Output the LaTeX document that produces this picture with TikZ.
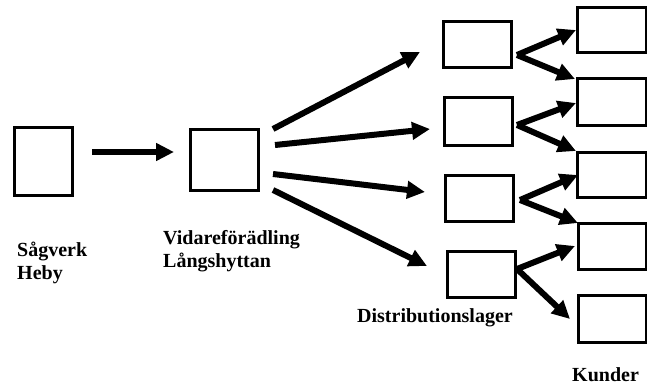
\documentclass[tikz,border=0pt]{standalone}
\usepackage{fontspec}
\setmainfont{Liberation Serif}
\usetikzlibrary{arrows.meta}
\begin{document}
\begin{tikzpicture}[x=1pt,y=-1pt,
  box/.style={draw,line width=3pt,inner sep=0pt},
  flow/.style={line width=6pt,-{Triangle[length=18pt,width=17pt]}},
  lbl/.style={font=\fontsize{20}{23}\selectfont\bfseries,anchor=west,inner sep=0pt,align=left}]
\useasboundingbox (0,0) rectangle (647,385);
% boxes
\node[box,minimum width=58pt,minimum height=68pt] (saw) at (43,161) {};
\node[box,minimum width=68pt,minimum height=61pt] (vid) at (224,159.5) {};
\node[box,minimum width=68pt,minimum height=46pt] (d1) at (477,45) {};
\node[box,minimum width=68pt,minimum height=47pt] (d2) at (478,121.5) {};
\node[box,minimum width=68pt,minimum height=46pt] (d3) at (479,198) {};
\node[box,minimum width=68pt,minimum height=46pt] (d4) at (481,274) {};
\node[box,minimum width=69pt,minimum height=45pt] (k1) at (611.5,30.5) {};
\node[box,minimum width=69pt,minimum height=46pt] (k2) at (611.5,102) {};
\node[box,minimum width=69pt,minimum height=45pt] (k3) at (611.5,174.5) {};
\node[box,minimum width=68pt,minimum height=46pt] (k4) at (612,246) {};
\node[box,minimum width=68pt,minimum height=47pt] (k5) at (612,318.5) {};
% labels
\node[lbl] (t1) at (17,262.5) {Sågverk\\Heby};
\node[lbl] (t2) at (163,251.5) {Vidareförädling\\Långshyttan};
\node[lbl] (t3) at (357,318) {Distributionslager};
\node[lbl] (t4) at (572,375) {Kunder};
% coordinates for arrow ends
\coordinate (a0s) at (92,152);  \coordinate (a0e) at (174,152);
\coordinate (v1) at (273,129);  \coordinate (e1) at (420,52);
\coordinate (v2) at (275,145);  \coordinate (e2) at (430,129);
\coordinate (v3) at (273,174);  \coordinate (e3) at (425,192);
\coordinate (v4) at (273,190);  \coordinate (e4) at (427,266);
\coordinate (s1) at (517,55);   \coordinate (s2) at (517,125);
\coordinate (s3) at (520,200);  \coordinate (s4) at (517,269);
\coordinate (u1) at (576,30);   \coordinate (w1) at (575,79);
\coordinate (u2) at (576,103);  \coordinate (w2) at (576,151);
\coordinate (u3) at (578,175);  \coordinate (w3) at (578,223);
\coordinate (u4) at (575,246);  \coordinate (w4) at (570,319);
% arrows
\draw[flow] (a0s) -- (a0e);
\draw[flow] (v1) -- (e1);
\draw[flow] (v2) -- (e2);
\draw[flow] (v3) -- (e3);
\draw[flow] (v4) -- (e4);
\draw[flow] (s1) -- (u1);
\draw[flow] (s1) -- (w1);
\draw[flow] (s2) -- (u2);
\draw[flow] (s2) -- (w2);
\draw[flow] (s3) -- (u3);
\draw[flow] (s3) -- (w3);
\draw[flow] (s4) -- (u4);
\draw[flow] (s4) -- (w4);
\end{tikzpicture}
\end{document}
